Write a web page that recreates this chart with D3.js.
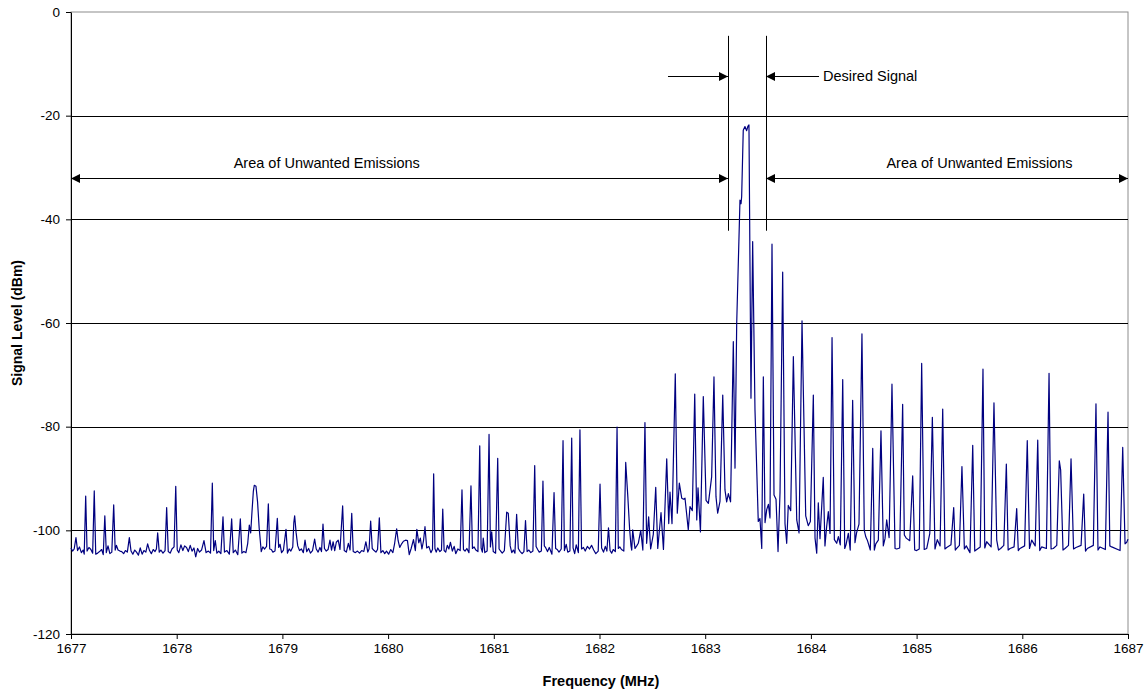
<!DOCTYPE html>
<html>
<head>
<meta charset="utf-8">
<script src="https://cdn.jsdelivr.net/npm/d3@7"></script>
<style>
  body { margin: 0; background: #fff; }
  svg { display: block; font-family: "Liberation Sans", Arial, sans-serif; }
</style>
</head>
<body>
<svg id="chart" width="1146" height="696"></svg>
<script>
// spectrum trace, [MHz, dBm]
const traceA = [
  [1677.000,-103.4],[1677.015,-104.0],[1677.030,-103.6],[1677.047,-101.4],[1677.062,-103.9],[1677.080,-103.2],
  [1677.098,-104.3],[1677.115,-103.8],[1677.125,-104.6],[1677.139,-93.4],[1677.152,-104.0],[1677.170,-103.3],
  [1677.188,-103.7],[1677.205,-104.4],[1677.220,-92.4],[1677.234,-104.6],[1677.252,-104.4],[1677.270,-104.1],
  [1677.290,-103.7],[1677.305,-104.7],[1677.320,-97.2],[1677.334,-104.3],[1677.350,-103.0],[1677.368,-104.5],
  [1677.386,-104.2],[1677.404,-95.1],[1677.418,-103.8],[1677.430,-102.9],[1677.445,-103.8],[1677.463,-104.0],
  [1677.480,-104.1],[1677.498,-104.5],[1677.515,-103.9],[1677.533,-104.2],[1677.552,-101.4],[1677.568,-104.0],
  [1677.585,-104.6],[1677.603,-103.8],[1677.620,-104.2],[1677.638,-104.8],[1677.655,-103.4],[1677.673,-104.6],
  [1677.690,-103.9],[1677.708,-104.2],[1677.725,-102.6],[1677.743,-103.9],[1677.760,-104.5],[1677.778,-103.7],
  [1677.795,-104.1],[1677.808,-103.6],[1677.820,-100.5],[1677.835,-104.2],[1677.850,-103.8],[1677.870,-104.4],
  [1677.890,-103.9],[1677.905,-95.6],[1677.920,-104.1],[1677.938,-104.4],[1677.955,-103.6],[1677.975,-103.2],
  [1677.991,-91.5],[1678.005,-103.8],[1678.020,-104.3],[1678.040,-102.8],[1678.058,-103.9],[1678.075,-103.0],
  [1678.093,-103.3],[1678.110,-104.1],[1678.128,-102.9],[1678.145,-104.0],[1678.163,-103.4],[1678.180,-105.1],
  [1678.198,-103.5],[1678.215,-104.2],[1678.235,-103.8],[1678.258,-102.0],[1678.278,-104.3],[1678.300,-104.0],
  [1678.320,-104.4],[1678.337,-90.9],[1678.350,-103.9],[1678.365,-102.0],[1678.380,-104.4],[1678.398,-104.0],
  [1678.418,-104.5],[1678.438,-97.4],[1678.452,-104.2],[1678.475,-103.9],[1678.498,-104.6],[1678.520,-97.8],
  [1678.535,-104.3],[1678.555,-103.8],[1678.578,-104.7],[1678.602,-97.8],[1678.617,-104.4],[1678.635,-104.1],
  [1678.655,-104.3],[1678.672,-102.5],[1678.687,-99.0],[1678.700,-100.5],[1678.712,-96.5],[1678.725,-92.5],
  [1678.734,-91.3],[1678.750,-91.5],[1678.765,-94.5],[1678.780,-99.5],[1678.800,-104.1],[1678.815,-103.2],
  [1678.832,-103.6],[1678.850,-103.1],[1678.867,-94.9],[1678.880,-103.6],[1678.895,-103.7],[1678.910,-104.2],
  [1678.930,-104.0],[1678.952,-97.7],[1678.965,-103.3],[1678.978,-102.7],[1678.992,-104.3],[1679.010,-103.8],
  [1679.034,-99.8],[1679.048,-104.4],[1679.064,-103.6]
];
const traceB = [
  [1679.080,-104.0],[1679.098,-103.2],[1679.108,-98.5],[1679.116,-97.2],[1679.130,-100.5],[1679.145,-103.0],
  [1679.162,-103.9],[1679.180,-103.6],[1679.198,-104.3],[1679.214,-101.9],[1679.230,-104.1],[1679.248,-103.5],
  [1679.265,-104.4],[1679.285,-103.9],[1679.305,-101.7],[1679.320,-103.6],[1679.338,-104.2],[1679.355,-103.3],
  [1679.370,-104.1],[1679.384,-98.8],[1679.398,-103.5],[1679.415,-104.0],[1679.432,-103.7],[1679.450,-101.9],
  [1679.465,-103.8],[1679.480,-102.2],[1679.495,-103.9],[1679.510,-102.3],[1679.528,-101.9],[1679.545,-103.7],
  [1679.570,-95.3],[1679.585,-103.9],[1679.605,-104.2],[1679.624,-102.5],[1679.640,-103.8],[1679.656,-96.7],
  [1679.670,-104.1],[1679.690,-104.3],[1679.710,-104.0],[1679.730,-104.4],[1679.750,-103.9],[1679.770,-104.1],
  [1679.790,-102.2],[1679.808,-104.2],[1679.820,-103.6],[1679.835,-98.2],[1679.850,-103.5],[1679.868,-103.9],
  [1679.885,-104.2],[1679.900,-103.7],[1679.917,-97.6],[1679.932,-104.3],[1679.950,-103.9],[1679.968,-104.5],
  [1679.985,-104.0],[1680.005,-104.6],[1680.025,-103.7],[1680.045,-104.3],[1680.062,-102.5],[1680.081,-99.7],
  [1680.095,-102.0],[1680.110,-103.3],[1680.128,-102.6],[1680.145,-102.1],[1680.165,-101.9],[1680.183,-102.0],
  [1680.200,-104.7],[1680.218,-103.5],[1680.240,-101.8],[1680.258,-103.9],[1680.272,-99.8],[1680.290,-102.4],
  [1680.305,-101.5],[1680.320,-103.6],[1680.335,-102.0],[1680.349,-99.3],[1680.365,-103.4],[1680.385,-103.1],
  [1680.405,-104.3],[1680.420,-103.7],[1680.431,-89.1],[1680.443,-103.5],[1680.455,-104.2],[1680.470,-103.4],
  [1680.490,-104.1],[1680.505,-103.8],[1680.517,-95.9],[1680.530,-103.9]
];
const traceC = [
  [1680.545,-104.2],[1680.560,-102.9],[1680.575,-103.6],[1680.590,-102.3],[1680.608,-104.0],[1680.625,-103.1],
  [1680.640,-104.5],[1680.660,-103.6],[1680.682,-103.9],[1680.699,-92.2],[1680.713,-103.7],[1680.728,-104.0],
  [1680.745,-103.5],[1680.765,-104.3],[1680.784,-91.4],[1680.798,-103.5],[1680.813,-103.2],[1680.830,-103.8],
  [1680.850,-104.1],[1680.867,-83.7],[1680.880,-103.4],[1680.892,-104.2],[1680.900,-101.5],[1680.915,-104.3],
  [1680.937,-104.0],[1680.955,-81.5],[1680.968,-103.2],[1680.980,-100.3],[1680.995,-104.1],[1681.017,-104.4],
  [1681.037,-86.1],[1681.050,-103.6],[1681.065,-104.0],[1681.080,-104.4],[1681.100,-103.9],[1681.122,-96.5],
  [1681.137,-96.7],[1681.155,-103.0],[1681.170,-104.3],[1681.185,-103.8],[1681.200,-104.4],[1681.216,-96.9],
  [1681.232,-103.5],[1681.250,-104.1],[1681.268,-104.5],[1681.285,-104.1],[1681.300,-98.1],[1681.315,-104.1],
  [1681.332,-103.8],[1681.350,-104.3],[1681.370,-104.0],[1681.387,-87.5],[1681.400,-103.1],[1681.415,-103.7],
  [1681.430,-104.2],[1681.450,-104.0],[1681.465,-90.5],[1681.478,-103.0],[1681.492,-103.4],[1681.508,-104.1],
  [1681.525,-103.3],[1681.550,-104.6],[1681.570,-92.7],[1681.585,-103.5],[1681.600,-103.7],[1681.617,-104.2],
  [1681.638,-103.6],[1681.655,-82.7],[1681.668,-103.9],[1681.685,-102.7],[1681.700,-104.2],[1681.720,-104.0],
  [1681.737,-82.2],[1681.750,-103.4],[1681.765,-104.5],[1681.780,-102.8],[1681.800,-104.3],[1681.815,-80.6],
  [1681.830,-103.6],[1681.848,-103.3],[1681.865,-104.0],[1681.885,-103.1],[1681.905,-103.6],[1681.925,-102.9],
  [1681.945,-103.8],[1681.965,-104.5],[1681.988,-104.0],[1682.005,-91.1],[1682.020,-103.4],[1682.038,-104.2],
  [1682.055,-103.1],[1682.070,-104.0],[1682.085,-99.5],[1682.100,-103.9],[1682.115,-104.4],[1682.130,-103.7],
  [1682.150,-104.1],[1682.166,-80.1],[1682.178,-103.5],[1682.192,-103.2],[1682.208,-103.7],[1682.230,-104.0]
];
const traceD = [
  [1682.248,-86.9],[1682.268,-93.5],[1682.285,-99.8],[1682.298,-103.0],[1682.305,-103.8],[1682.314,-99.9],
  [1682.336,-103.5],[1682.352,-103.0],[1682.367,-102.5],[1682.390,-100.0],[1682.410,-103.8],[1682.430,-79.2],
  [1682.446,-102.5],[1682.465,-97.4],[1682.484,-103.6],[1682.509,-100.8],[1682.532,-91.7],[1682.551,-103.5],
  [1682.582,-96.6],[1682.605,-103.7],[1682.636,-86.2],[1682.655,-98.7],[1682.667,-92.6],[1682.686,-98.7],
  [1682.717,-69.8],[1682.736,-96.7],[1682.755,-90.9],[1682.778,-93.8],[1682.795,-94.0],[1682.809,-93.8],
  [1682.840,-99.9],[1682.856,-95.4],[1682.878,-96.2],[1682.901,-73.7],[1682.920,-98.0],[1682.932,-91.8],
  [1682.955,-100.3],[1682.982,-74.2],[1683.008,-94.2],[1683.030,-94.8],[1683.061,-89.7],[1683.083,-70.4],
  [1683.102,-93.5],[1683.118,-96.7],[1683.140,-94.4],[1683.166,-73.9],[1683.187,-92.2],[1683.203,-94.5],
  [1683.219,-92.9],[1683.240,-94.5],[1683.266,-63.6],[1683.282,-88.0],[1683.298,-60.1],[1683.329,-36.3],
  [1683.339,-37.0],[1683.345,-35.6],[1683.360,-22.8],[1683.376,-22.1],[1683.392,-22.9],[1683.405,-22.0],
  [1683.414,-21.8],[1683.433,-74.5],[1683.449,-44.3],[1683.471,-76.8],[1683.502,-98.3],[1683.518,-97.7],
  [1683.535,-103.5]
];
const traceE = [
  [1683.550,-70.4],[1683.566,-98.5],[1683.582,-96.0],[1683.598,-95.0],[1683.613,-97.6],[1683.632,-44.8],
  [1683.651,-93.2],[1683.670,-94.0],[1683.689,-104.1],[1683.708,-92.6],[1683.733,-50.2],[1683.755,-98.7],
  [1683.771,-102.5],[1683.786,-95.2],[1683.809,-96.2],[1683.834,-66.5],[1683.866,-98.0],[1683.888,-100.5],
  [1683.916,-59.6],[1683.951,-97.2],[1683.975,-99.1],[1683.995,-98.3],[1684.023,-73.9],[1684.039,-101.5],
  [1684.055,-104.4],[1684.070,-94.7],[1684.086,-101.6],[1684.117,-89.8],[1684.133,-103.0],[1684.149,-99.3],
  [1684.165,-96.4],[1684.181,-100.6],[1684.200,-62.8],[1684.222,-101.8],[1684.244,-102.5],[1684.260,-101.2],
  [1684.278,-102.8],[1684.301,-70.9],[1684.320,-103.5],[1684.332,-102.8],[1684.354,-100.6],[1684.372,-103.8],
  [1684.395,-74.9],[1684.417,-102.4],[1684.432,-100.5],[1684.455,-98.8],[1684.483,-62.1],[1684.505,-100.0],
  [1684.520,-101.3],[1684.534,-101.9],[1684.562,-103.8],[1684.585,-84.2],[1684.600,-103.8],[1684.614,-102.6],
  [1684.638,-101.9],[1684.663,-80.8],[1684.685,-103.0],[1684.701,-101.6],[1684.717,-98.0],[1684.740,-101.4],
  [1684.767,-71.8],[1684.796,-103.5],[1684.812,-103.6],[1684.840,-103.4],[1684.868,-75.7],[1684.884,-100.9],
  [1684.902,-101.5],[1684.935,-102.0],[1684.963,-89.5],[1684.982,-103.8],[1685.000,-103.9],[1685.025,-103.6],
  [1685.048,-67.8],[1685.072,-103.7],[1685.096,-103.5],[1685.125,-100.6],[1685.149,-78.2],[1685.174,-103.6],
  [1685.196,-101.8],[1685.222,-103.0],[1685.247,-76.6],[1685.268,-103.6],[1685.285,-103.3],[1685.325,-102.8],
  [1685.351,-95.6],[1685.366,-103.8],[1685.379,-103.5],[1685.405,-102.9],[1685.429,-87.7],[1685.452,-103.6],
  [1685.470,-103.0],[1685.505,-104.3],[1685.531,-83.6],[1685.550,-104.0],[1685.569,-103.7],[1685.602,-103.2],
  [1685.628,-68.9],[1685.645,-103.4],[1685.663,-102.2],[1685.705,-103.2],[1685.732,-75.4],[1685.758,-101.9],
  [1685.775,-103.8],[1685.795,-103.5],[1685.825,-102.9],[1685.849,-87.2],[1685.866,-103.8],[1685.884,-103.5],
  [1685.922,-103.2],[1685.947,-95.8],[1685.962,-103.9],[1685.978,-103.5],[1686.022,-103.0],[1686.047,-82.7],
  [1686.068,-103.5],[1686.089,-101.9],[1686.122,-103.0],[1686.146,-82.6],[1686.165,-103.9],[1686.183,-103.2],
  [1686.228,-103.5],[1686.253,-69.7],[1686.272,-103.6],[1686.293,-103.5],[1686.326,-102.9],[1686.350,-86.6],
  [1686.363,-88.4],[1686.385,-103.8],[1686.404,-103.5],[1686.437,-102.9],[1686.461,-86.2],[1686.485,-103.6],
  [1686.508,-103.3],[1686.556,-102.9],[1686.581,-93.0],[1686.598,-104.0],[1686.615,-103.5],[1686.672,-102.9],
  [1686.697,-75.6],[1686.716,-103.8],[1686.735,-103.2],[1686.786,-103.7],[1686.811,-77.2],[1686.828,-103.0],
  [1686.846,-103.2],[1686.925,-103.9],[1686.950,-84.0],[1686.972,-102.6],[1686.988,-102.3],[1687.000,-101.7]
];
const trace = [...traceA, ...traceB, ...traceC, ...traceD, ...traceE];

const freqTicks = [1677, 1678, 1679, 1680, 1681, 1682, 1683, 1684, 1685, 1686, 1687];
const levelTicks = [0, -20, -40, -60, -80, -100, -120];

// annotation: band edges of the wanted signal and the arrow rows
const bandEdges = [1683.216, 1683.575];
const bandEdgeLevels = [-4.6, -42.2];
const desiredArrowLevel = -12.35;
const desiredArrowFrom = [1682.648, 1684.077];
const emissionsArrowLevel = -32.0;
const emissionsLabelLevel = -29.1;
const emissionsLabelFreqs = [1679.42, 1685.595];

const svg = d3.select('#chart');
const margin = {top: 12, right: 18, bottom: 62, left: 71};
const W = +svg.attr('width'), H = +svg.attr('height');
const x = d3.scaleLinear().domain([1677, 1687]).range([margin.left, W - margin.right]);
const y = d3.scaleLinear().domain([-120, 0]).range([H - margin.bottom, margin.top]);

// plot frame + horizontal grid
svg.append('rect')
  .attr('x', x(1677)).attr('y', y(0))
  .attr('width', x(1687) - x(1677)).attr('height', y(-120) - y(0))
  .attr('fill', 'none').attr('stroke', '#8c8c8c');

svg.append('g').selectAll('line')
  .data(levelTicks.filter(d => d !== 0 && d !== -120))
  .enter().append('line')
  .attr('x1', x(1677)).attr('x2', x(1687))
  .attr('y1', d => Math.round(y(d)) + 0.5).attr('y2', d => Math.round(y(d)) + 0.5)
  .attr('stroke', '#000').attr('stroke-width', 1);

// axes
const xAxis = svg.append('g')
  .attr('transform', `translate(0,${y(-120)})`)
  .call(d3.axisBottom(x).tickValues(freqTicks).tickFormat(d3.format('d'))
    .tickSize(5).tickSizeOuter(0).tickPadding(4));
const yAxis = svg.append('g')
  .attr('transform', `translate(${x(1677)},0)`)
  .call(d3.axisLeft(y).tickValues(levelTicks).tickFormat(d3.format('d'))
    .tickSize(5).tickSizeOuter(0).tickPadding(6));
[xAxis, yAxis].forEach(g => {
  g.attr('font-family', null).attr('font-size', null);
  g.selectAll('text').attr('font-size', 13.5).attr('fill', '#000');
  g.selectAll('line, path').attr('stroke', '#000');
});
yAxis.selectAll('text').text(d => d3.format('d')(d).replace('−', '-'));

svg.append('text')
  .attr('x', 601).attr('y', 686)
  .attr('text-anchor', 'middle').attr('font-size', 14.5).attr('font-weight', 'bold')
  .text('Frequency (MHz)');
svg.append('text')
  .attr('transform', `translate(22,${(y(0) + y(-120)) / 2}) rotate(-90)`)
  .attr('text-anchor', 'middle').attr('font-size', 14).attr('font-weight', 'bold')
  .text('Signal Level (dBm)');

// spectrum
const line = d3.line().x(d => x(d[0])).y(d => y(d[1]));
svg.append('path')
  .datum(trace)
  .attr('d', line)
  .attr('fill', 'none')
  .attr('stroke', '#000080')
  .attr('stroke-width', 1.2)
  .attr('stroke-linejoin', 'round');

// annotations
const ann = svg.append('g');
bandEdges.forEach(f => {
  ann.append('line')
    .attr('x1', Math.round(x(f)) + 0.5).attr('x2', Math.round(x(f)) + 0.5)
    .attr('y1', y(bandEdgeLevels[0])).attr('y2', y(bandEdgeLevels[1]))
    .attr('stroke', '#000');
});

function arrow(f0, f1, level, heads) {
  const yy = Math.round(y(level)) + 0.5;
  const x0 = x(f0), x1 = x(f1);
  ann.append('line').attr('x1', x0).attr('x2', x1).attr('y1', yy).attr('y2', yy)
    .attr('stroke', '#000');
  const head = (tip, dir) => {
    ann.append('path')
      .attr('d', `M${tip},${yy}L${tip - dir * 9},${yy - 4.5}L${tip - dir * 9},${yy + 4.5}Z`)
      .attr('fill', '#000');
  };
  if (heads.includes('end')) head(x1, Math.sign(x1 - x0));
  if (heads.includes('start')) head(x0, Math.sign(x0 - x1));
}

arrow(desiredArrowFrom[0], bandEdges[0], desiredArrowLevel, ['end']);
arrow(desiredArrowFrom[1], bandEdges[1], desiredArrowLevel, ['end']);
arrow(1677, bandEdges[0], emissionsArrowLevel, ['start', 'end']);
arrow(bandEdges[1], 1687, emissionsArrowLevel, ['start', 'end']);

ann.append('text')
  .attr('x', x(desiredArrowFrom[1]) + 4).attr('y', y(desiredArrowLevel))
  .attr('dy', '0.35em').attr('font-size', 14.5)
  .text('Desired Signal');
emissionsLabelFreqs.forEach(f => {
  ann.append('text')
    .attr('x', x(f)).attr('y', y(emissionsLabelLevel))
    .attr('dy', '0.35em').attr('text-anchor', 'middle').attr('font-size', 14.5)
    .text('Area of Unwanted Emissions');
});
</script>
</body>
</html>
